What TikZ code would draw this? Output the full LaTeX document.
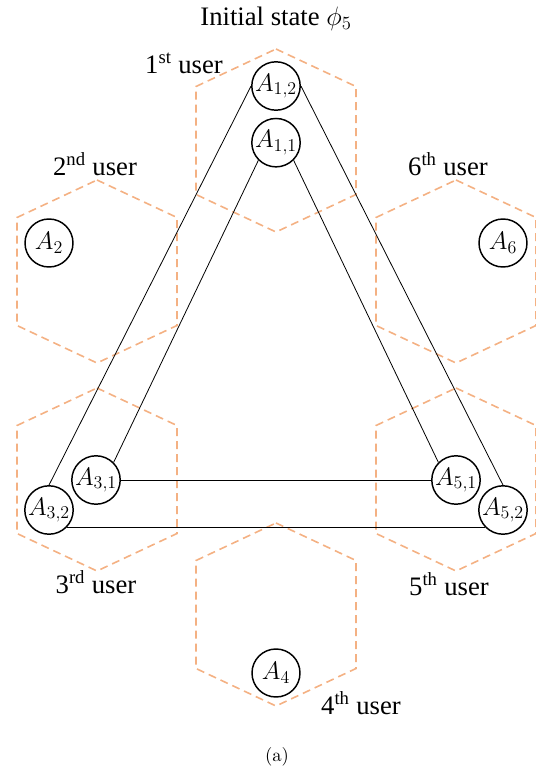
\RequirePackage{fix-cm}
\documentclass[tikz,border=0pt]{standalone}
\usepackage{fontspec}
\usepackage{tikz}
\usepackage{amsmath}
\newfontfamily\timesfont{Liberation Serif}
\newfontfamily\lmfont{lmroman10-regular.otf}
\DeclareMathSizes{19}{19}{13.5}{10}
\definecolor{cellorange}{HTML}{F4B183}

\begin{document}
\begin{tikzpicture}[x=0.75pt,y=-0.75pt,node distance=42.5pt,
  user/.style={circle,draw,line width=1.1pt,minimum size=36pt,inner sep=0pt,font=\fontsize{19}{22}\selectfont},
  lbl/.style={anchor=base,font=\timesfont\fontsize{20}{24}\selectfont},
  cell/.style={draw=cellorange,line width=1.2pt,dash pattern=on 6pt off 3.75pt},
  link/.style={draw,line width=0.6pt}]

\useasboundingbox (0,0) rectangle (536,772);

% cells of the six users
\foreach \cx/\cy in {276/141,97/272,97/480,276/615,456/480,456/272}
  \draw[cell] (\cx,\cy) ++(0,-92) -- ++(80,37.5) -- ++(0,108) -- ++(-80,37.5)
    -- ++(-80,-37.5) -- ++(0,-108) -- cycle;

\node[user] (a12) at (276,86)  {$A_{1,2}$};
\node[user] (a11) [below of=a12] {$A_{1,1}$};
\node[user] (a2)  at (49,243)  {$A_{2}$};
\node[user] (a31) at (96,480)  {$A_{3,1}$};
\node[user] (a32) at (49,510)  {$A_{3,2}$};
\node[user] (a4)  at (276,673) {$A_{4}$};
\node[user] (a51) at (456,480) {$A_{5,1}$};
\node[user] (a52) at (503,510) {$A_{5,2}$};
\node[user] (a6)  at (503,243) {$A_{6}$};

\node[lbl] (title) at (276,25)  {Initial state $\phi_5$};
\node[lbl] (u1)    at (184,73)  {1\textsuperscript{st} user};
\node[lbl] (u2)    at (95,175)  {2\textsuperscript{nd} user};
\node[lbl] (u3)    at (96,593)  {3\textsuperscript{rd} user};
\node[lbl] (u4)    at (361,714) {4\textsuperscript{th} user};
\node[lbl] (u5)    at (449,595) {5\textsuperscript{th} user};
\node[lbl] (u6)    at (448,175) {6\textsuperscript{th} user};
\node[anchor=base,font=\lmfont\fontsize{14}{17}\selectfont] (cap) at (277,761) {(a)};

\path[link]
(a12.west)       edge (a32.north)
(a12.east)       edge (a52.north)
(a11.south west) edge (a31.north east)
(a11.south east) edge (a51.north west)
(a31.east)       edge (a51.west)
(a32.south east) edge (a52.south west)
;
\end{tikzpicture}
\end{document}
